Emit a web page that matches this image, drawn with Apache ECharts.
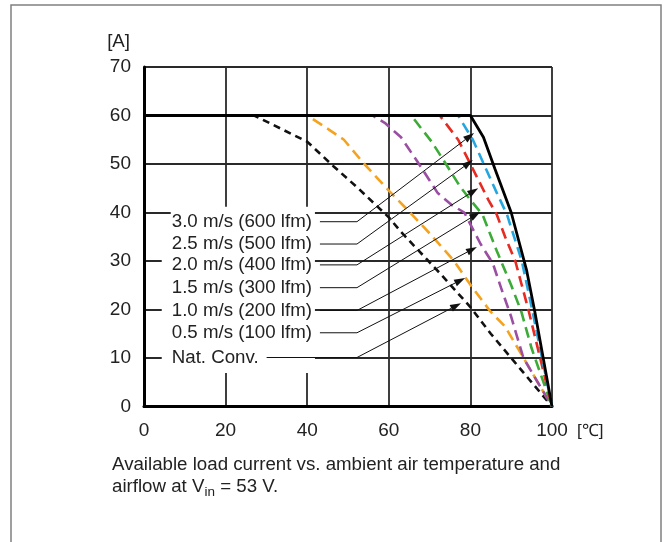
<!DOCTYPE html>
<html><head><meta charset="utf-8">
<script src="https://cdn.jsdelivr.net/npm/echarts@6/dist/echarts.min.js"></script>
<style>html,body{margin:0;padding:0;background:#fff}#c{width:667px;height:542px}</style>
</head><body><div id="c"></div>
<script>
// ---- data ----
const xTickInterval = 20;
const yTickInterval = 10;
const xMax = 100;
const yMax = 70;

const natConv = [[0,60],[27,60],[40,54.6],[46.5,49.5],[52.5,45],[60,39],[63,36],[72.5,27.5],[80,20.5],[85,15],[100,0]];
const flow05  = [[0,60],[40,60],[45.5,57],[49,55],[54,50],[60,44.5],[65,40.2],[70,35.7],[76,30],[80.5,24.5],[85,19.5],[88.5,16.5],[100,0]];
const flow10  = [[0,60],[56,60],[59,58.5],[63,55.5],[67,50.5],[72,44],[75.5,41.5],[78.5,40],[82.5,33.5],[85.5,29.5],[87.5,24.5],[90,18.5],[93,10],[100,0]];
const flow15  = [[0,60],[65.5,60],[70.5,54.6],[74,50],[77.5,45.3],[80,42.6],[83,39.5],[86.5,32],[90,25],[92.5,19.5],[95,12],[100,0]];
const flow20  = [[0,60],[72.5,60],[77,55],[80,50],[84.4,42.6],[86.5,39.5],[88.5,35],[91,30],[92.6,25],[94.2,20],[100,0]];
const flow25  = [[0,60],[77,60],[80.6,55],[83.6,49.4],[86.5,44],[89,39.5],[92.6,30],[95,20.5],[100,0]];
const flow30  = [[0,60],[80,60],[83.2,55.5],[86,49],[90,40],[93.8,28],[95.8,19.5],[100,0]];

const labelTexts  = ["3.0 m/s (600 lfm)","2.5 m/s (500 lfm)","2.0 m/s (400 lfm)","1.5 m/s (300 lfm)","1.0 m/s (200 lfm)","0.5 m/s (100 lfm)","Nat. Conv."];
const labelLevels = [38.1,33.5,29.2,24.5,19.8,15.2,10.1];
const labelStartT = 6.8;
const elbowT = 52.2;
const arrowTips = [[80.9,56.4],[80.6,50.8],[81.9,45],[82.4,40.1],[81.6,32.9],[78.7,26.5],[77.7,21.3]];

const FONT = "'Liberation Sans', Arial, Helvetica, sans-serif";
const FS = 18.7;
const TXT = '#222';

const chart = echarts.init(document.getElementById('c'), null, {renderer:'canvas'});

function dashed(name, data, color, dash){
  return {type:'line', name, data, showSymbol:false, symbol:'none', animation:false, z:2,
    lineStyle:{color, width:2.6, type:dash, cap:'butt'}};
}

chart.setOption({
  animation:false,
  backgroundColor:'#fff',
  grid:{left:144, right:115, top:67, bottom:135.5, containLabel:false},
  xAxis:{type:'value', min:0, max:xMax, interval:xTickInterval,
    axisLine:{show:true, onZero:false, lineStyle:{color:'#000', width:3}},
    axisTick:{show:false},
    axisLabel:{fontSize:19, color:TXT, fontFamily:FONT, margin:15},
    splitLine:{show:true, lineStyle:{color:'#2a2a2a', width:1.8}}},
  yAxis:{type:'value', min:0, max:yMax, interval:yTickInterval,
    axisLine:{show:true, onZero:false, lineStyle:{color:'#000', width:3}},
    axisTick:{show:false},
    axisLabel:{fontSize:19, color:TXT, fontFamily:FONT, margin:13},
    splitLine:{show:true, lineStyle:{color:'#2a2a2a', width:1.8}}},
  series:[
    dashed('Nat. Conv.', natConv, '#111', [7,5]),
    dashed('0.5 m/s', flow05, '#F5A31E', [11,6]),
    dashed('1.0 m/s', flow10, '#9A4FA3', [11,6]),
    dashed('1.5 m/s', flow15, '#3CAB37', [11,6]),
    dashed('2.0 m/s', flow20, '#E52B22', [11,6]),
    dashed('2.5 m/s', flow25, '#26A6E0', [11,6]),
    {type:'line', name:'3.0 m/s', data:flow30, showSymbol:false, symbol:'none', z:3,
      lineStyle:{color:'#000', width:2.8}}
  ]
});

// ---- annotations ----
const cvs = document.createElement('canvas').getContext('2d');
function tw(t, size){ cvs.font = size + 'px ' + FONT; return cvs.measureText(t).width; }
const px = p => chart.convertToPixel({gridIndex:0}, p);

const g = [];
g.push({type:'rect', silent:true, z:0, shape:{x:11, y:5, width:650, height:600},
  style:{fill:'none', stroke:'#808080', lineWidth:1.5}});

const p0 = px([0, yMax]);
g.push({type:'text', silent:true, x:p0[0]-14, y:p0[1]-25,
  style:{text:'[A]', font:FS+'px '+FONT, fill:TXT, align:'right', verticalAlign:'middle'}});
const p100 = px([xMax, 0]);
g.push({type:'text', silent:true, x:p100[0]+25, y:p100[1]+25,
  style:{text:'[\u2103]', font:'17px '+FONT, fill:TXT, align:'left', verticalAlign:'middle'}});

// caption
const capX = 112, capY1 = 465, capY2 = 487;
g.push({type:'text', silent:true, x:capX, y:capY1,
  style:{text:'Available load current vs. ambient air temperature and', font:FS+'px '+FONT, fill:TXT, align:'left', verticalAlign:'middle'}});
const c2a = 'airflow at V';
const w2a = tw(c2a, FS);
g.push({type:'text', silent:true, x:capX, y:capY2,
  style:{text:c2a, font:FS+'px '+FONT, fill:TXT, align:'left', verticalAlign:'middle'}});
const wsub = tw('in', 13.5);
g.push({type:'text', silent:true, x:capX+w2a, y:capY2+5,
  style:{text:'in', font:'13.5px '+FONT, fill:TXT, align:'left', verticalAlign:'middle'}});
g.push({type:'text', silent:true, x:capX+w2a+wsub, y:capY2,
  style:{text:' = 53 V.', font:FS+'px '+FONT, fill:TXT, align:'left', verticalAlign:'middle'}});

// white block behind the label column
const first = px([labelStartT, labelLevels[0]]);
const lastP = px([labelStartT, labelLevels[labelLevels.length-1]]);
const maxW = Math.max(...labelTexts.map(t => tw(t, FS)));
g.push({type:'rect', silent:true, z:1, shape:{x:first[0]-1, y:first[1]-15, width:maxW+4, height:12},
  style:{fill:'#fff'}});
g.push({type:'rect', silent:true, z:1, shape:{x:first[0]-10, y:first[1]-6, width:maxW+13, height:(lastP[1]+15.5)-(first[1]-6)},
  style:{fill:'#fff'}});

labelTexts.forEach((t, i) => {
  const a = px([labelStartT, labelLevels[i]]);
  const w = tw(t, FS);
  g.push({type:'text', silent:true, z:5, x:a[0], y:a[1],
    style:{text:t, font:FS+'px '+FONT, fill:TXT, align:'left', verticalAlign:'middle'}});
  const e = px([elbowT, labelLevels[i]]);
  const tip = px(arrowTips[i]);
  const dx = tip[0]-e[0], dy = tip[1]-e[1], L = Math.hypot(dx, dy);
  const ux = dx/L, uy = dy/L, hl = 11, hw = 3.6;
  const base = [tip[0]-ux*hl, tip[1]-uy*hl];
  g.push({type:'polyline', silent:true, z:10,
    shape:{points:[[a[0]+w+8, a[1]], [e[0], e[1]], base]},
    style:{stroke:'#111', lineWidth:1, fill:null}});
  g.push({type:'polygon', silent:true, z:10,
    shape:{points:[tip, [base[0]-uy*hw, base[1]+ux*hw], [base[0]+uy*hw, base[1]-ux*hw]]},
    style:{fill:'#111'}});
});

chart.setOption({graphic:{elements:g}});
</script></body></html>
